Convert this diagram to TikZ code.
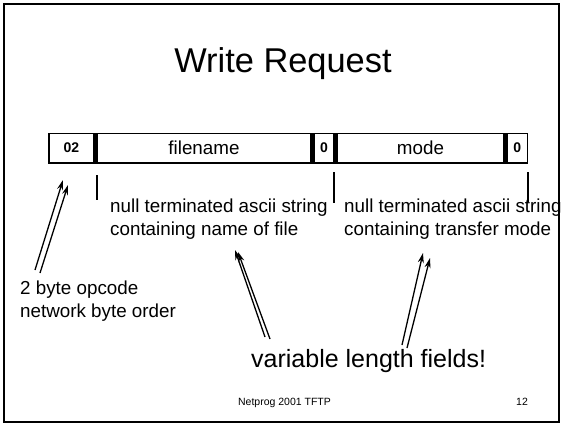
\documentclass[tikz,border=0pt]{standalone}
\usepackage{fontspec}
\setmainfont{Liberation Sans}
\usetikzlibrary{arrows.meta}
\tikzset{
  title/.style={font=\fontsize{34.4}{40}\selectfont,anchor=base,inner sep=0pt},
  body/.style={font=\fontsize{18.8}{22.6}\selectfont,align=left,inner sep=0pt,anchor=north west},
  big/.style={font=\fontsize{25}{30}\selectfont,anchor=base west,inner sep=0pt},
  foot/.style={font=\fontsize{10.5}{12}\selectfont,anchor=base,inner sep=0pt},
  packet/.style={fill=black,inner sep=0pt,minimum width=480pt,minimum height=31pt},
  field/.style={fill=white,inner sep=0pt,minimum height=27.6pt,font=\fontsize{18.8}{22}\selectfont},
  zero/.style={field,font=\bfseries\fontsize{14}{16}\selectfont},
  frame/.style={draw=black,line width=2pt},
  tick/.style={line width=1.5pt},
  arr/.style={-{Stealth[length=10pt,width=6pt]},line width=1.3pt}
}
\begin{document}
\begin{tikzpicture}[x=1pt,y=-1pt]
\path[use as bounding box] (0,0) rectangle (564,424);
\draw[frame] (4,4) rectangle (559,422);
\draw[line width=1.5pt] (3.5,421.5)--(3.5,5) (4,422)--(558,422);
\node[title] (title) at (283,72) {Write Request};
% packet layout
\node[packet] (pkt) at (288,148.5) {};
\foreach \nm/\xa/\xb/\lab/\sty in {op/50/93/02/zero,fn/98/310/filename/field,za/315/333/0/zero,md/338/503/mode/field,zb/508/526.5/0/zero}{
 \node[\sty,minimum width={(\xb-\xa)*1pt}] (\nm) at ({(\xa+\xb)/2},148) {\lab};
}
\foreach \x/\ya/\yb in {97/175/200,334/172/203,528/172/202}{
 \draw[tick] (\x,\ya)--(\x,\yb);
}
\node[body] (fntext) at (110,199) {null terminated ascii string\\containing name of file};
\node[body] (mdtext) at (344,199) {null terminated ascii string\\containing transfer mode};
\node[body] (optext) at (20,281) {2 byte opcode\\network byte order};
\node[big] (varlen) at (251,367) {variable length fields!};
% arrows
\coordinate (opA) at (35,270); \coordinate (opB) at (40,273);
\coordinate (opHA) at (63,180); \coordinate (opHB) at (68,185);
\coordinate (fnA) at (265,337); \coordinate (fnB) at (270,339);
\coordinate (fnHA) at (235,250); \coordinate (fnHB) at (238,252);
\coordinate (mdA) at (402,345); \coordinate (mdB) at (407,348);
\coordinate (mdHA) at (423,253); \coordinate (mdHB) at (430,258);
\foreach \p in {op,fn,md}{
 \draw[arr] (\p A)--(\p HA);
 \draw[arr] (\p B)--(\p HB);
}
\node[foot] (footer) at (284.5,405) {Netprog 2001 TFTP};
\node[foot] (page) at (522,405) {12};
\end{tikzpicture}
\end{document}
